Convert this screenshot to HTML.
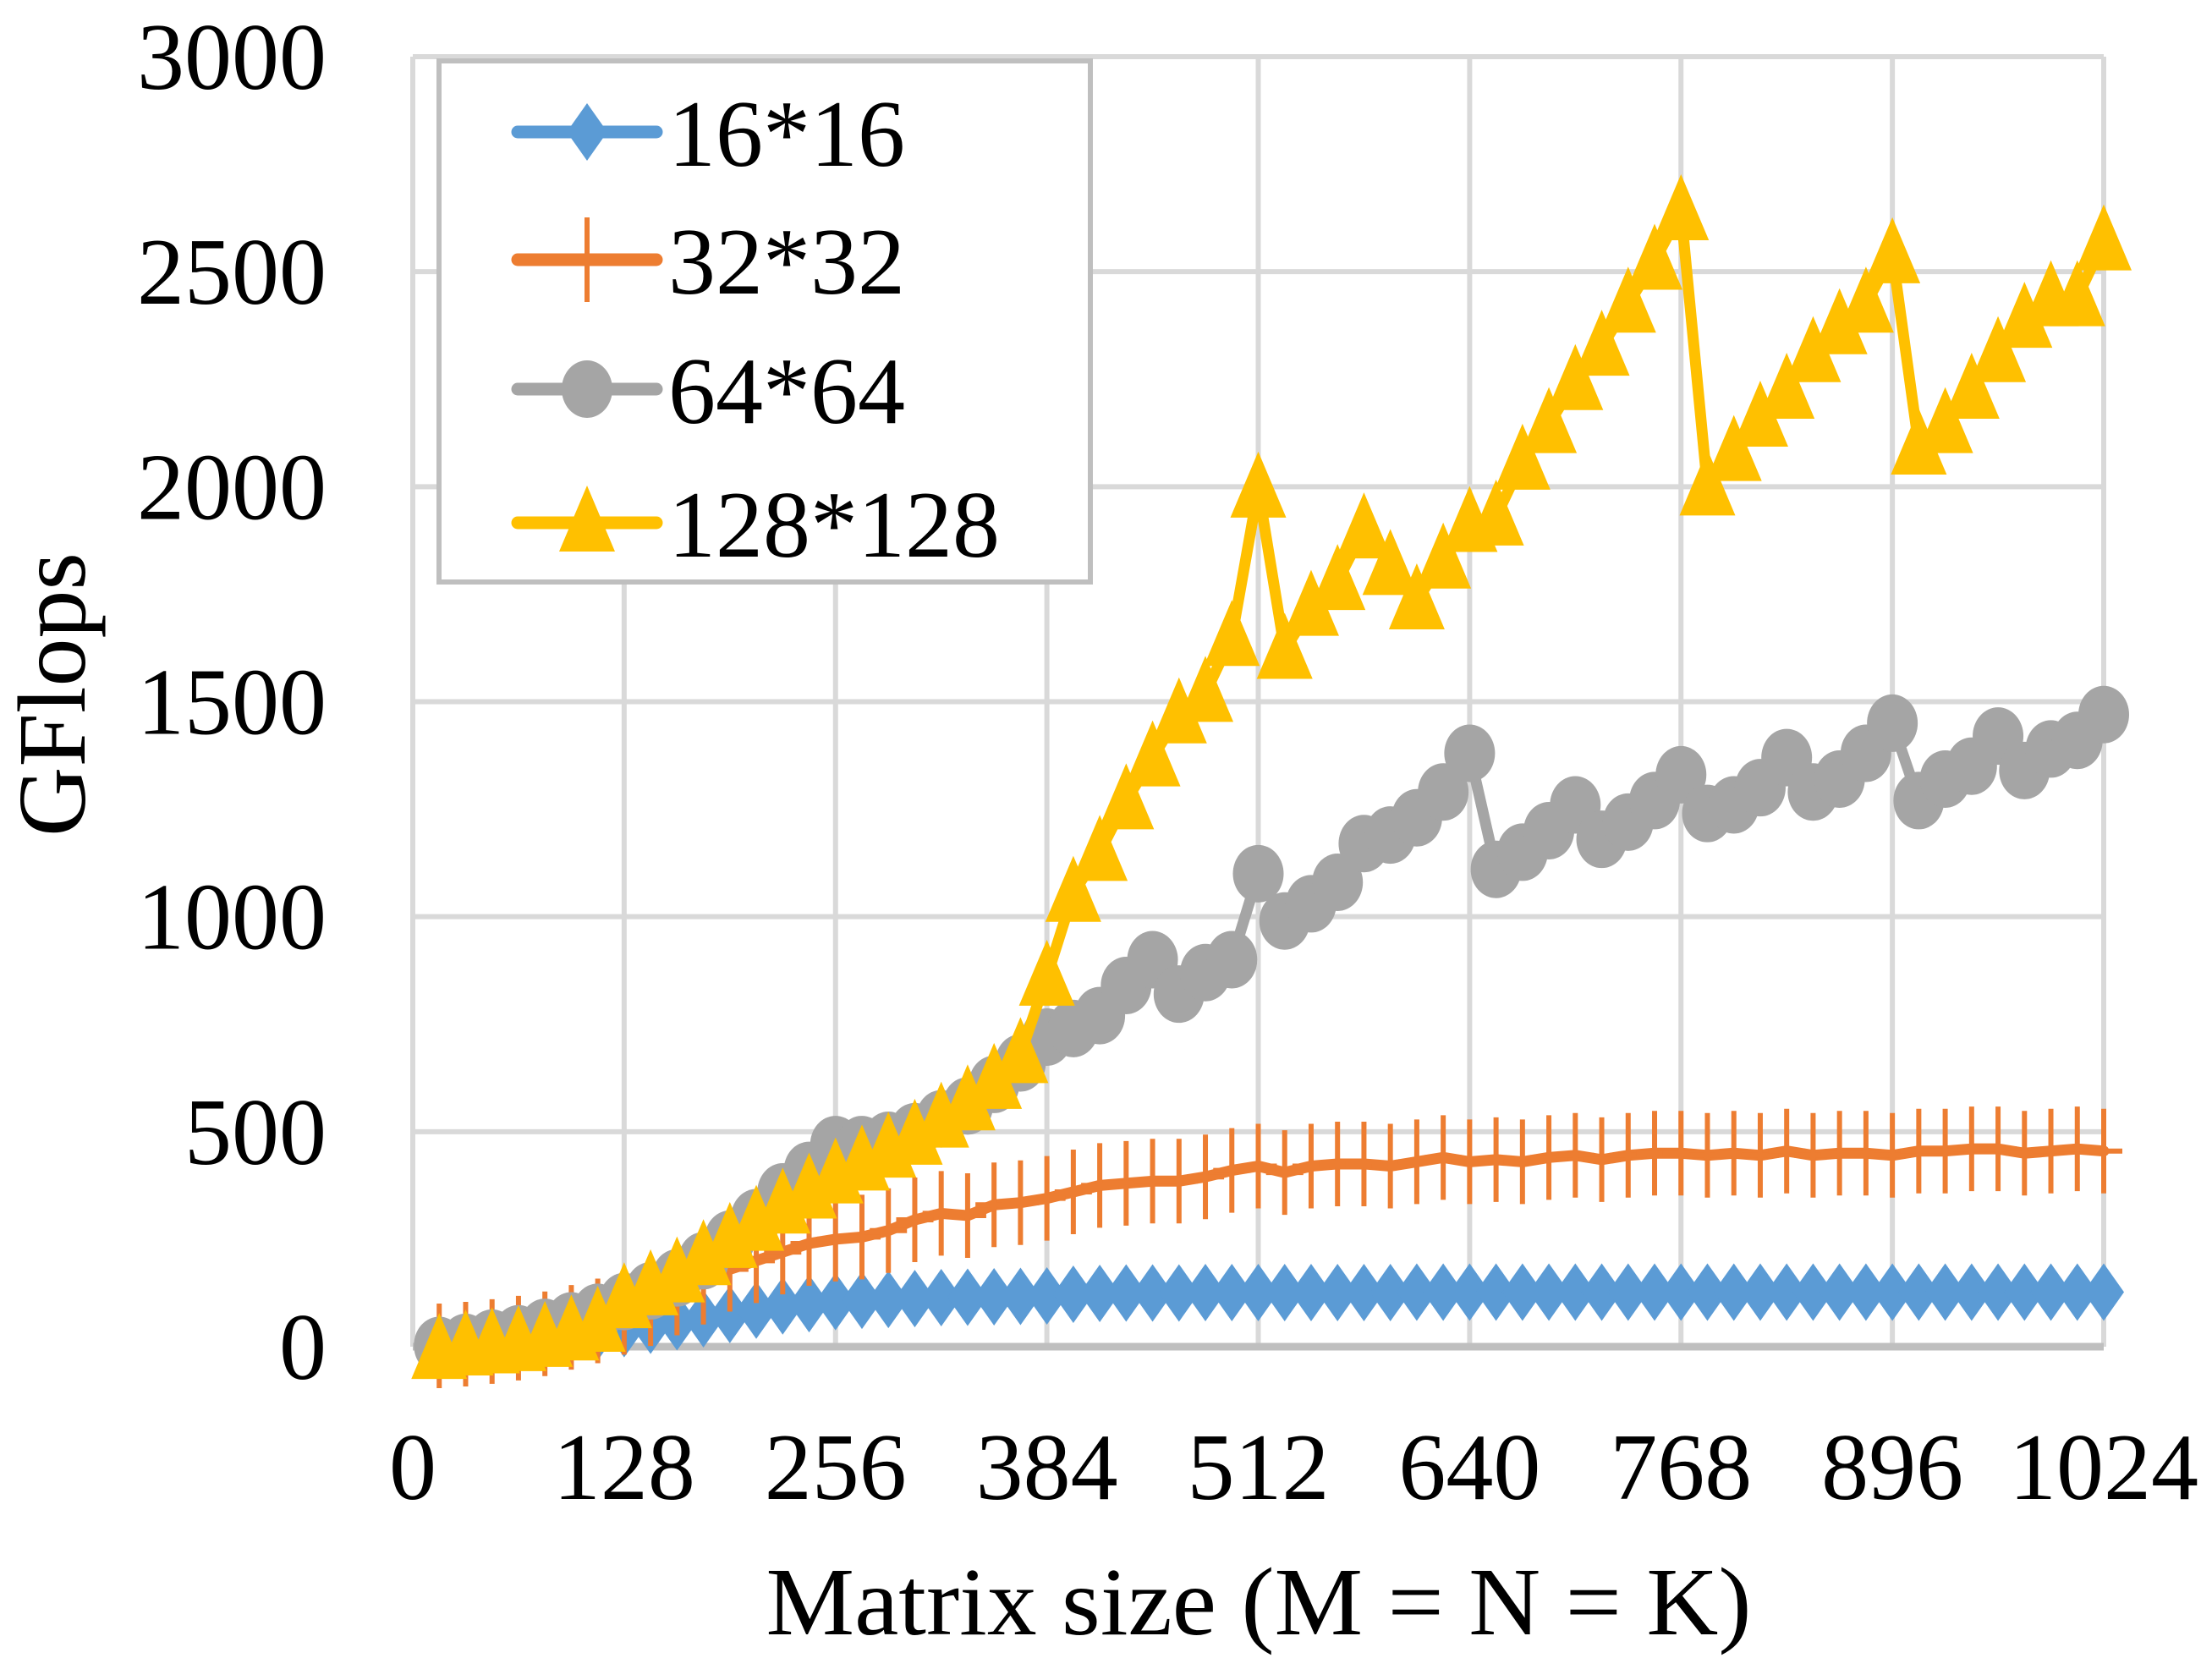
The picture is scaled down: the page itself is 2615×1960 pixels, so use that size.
<!DOCTYPE html>
<html><head><meta charset="utf-8"><style>
html,body{margin:0;padding:0;background:#fff;}
svg{display:block;font-family:"Liberation Serif","Times New Roman",serif;}
</style></head><body>
<svg id="chart" width="2615" height="1960" viewBox="0 0 2615 1960" xmlns="http://www.w3.org/2000/svg">
<g id="grid"></g>
<g id="axes"></g>
<g id="series"></g>
<g id="legend"></g>
<text x="1488" y="1932" font-size="114" text-anchor="middle" textLength="1165" lengthAdjust="spacingAndGlyphs">Matrix size (M = N = K)</text>
<text x="0" y="0" font-size="114" text-anchor="middle" transform="translate(100,821) rotate(-90)">GFlops</text>
</svg>
<script>
const xValues = [16,32,48,64,80,96,112,128,144,160,176,192,208,224,240,256,272,288,304,320,336,352,368,384,400,416,432,448,464,480,496,512,528,544,560,576,592,608,624,640,656,672,688,704,720,736,752,768,784,800,816,832,848,864,880,896,912,928,944,960,976,992,1008,1024];
const s16 = [2,5,10,15,20,28,35,42,50,58,65,75,85,95,100,105,108,110,112,114,115,116,117,118,122,124,125,125,125,126,126,126,126,126,126,126,126,127,127,127,127,127,127,127,127,127,127,127,127,127,127,127,127,127,127,127,127,127,127,127,127,127,127,127];
const s32 = [2,6,12,20,30,45,60,80,100,125,150,180,200,220,240,250,255,270,295,310,305,330,335,345,360,375,380,385,385,395,410,420,405,420,425,425,420,430,440,430,435,430,440,445,435,445,450,450,445,450,445,455,445,450,450,445,455,455,460,460,450,455,460,455];
const s64 = [3,10,20,30,45,60,80,105,130,160,200,250,300,360,410,470,470,480,500,530,560,610,660,720,740,770,840,900,820,870,900,1100,990,1030,1080,1170,1190,1230,1290,1380,1110,1150,1200,1260,1180,1220,1270,1330,1240,1260,1300,1370,1290,1320,1380,1450,1270,1320,1350,1420,1340,1390,1410,1470];
const s128 = [-8,0,5,10,20,35,55,110,140,170,210,250,290,330,365,400,430,460,490,530,570,620,680,860,1055,1150,1270,1370,1470,1520,1650,1995,1620,1720,1780,1900,1815,1735,1830,1915,1930,2060,2145,2245,2325,2425,2525,2640,2000,2080,2160,2225,2310,2375,2425,2540,2095,2145,2225,2310,2390,2440,2440,2570];
const xTicks = [0,128,256,384,512,640,768,896,1024];
const yTicks = [0,500,1000,1500,2000,2500,3000];
const seriesNames = ["16*16","32*32","64*64","128*128"];

const NS="http://www.w3.org/2000/svg";
const X0=488,X1=2487,Y0=1592,Y1=67;
const xs=v=>X0+(v/1024)*(X1-X0);
const ys=v=>Y0-(v/3000)*(Y0-Y1);
function mk(tag,attrs,parent){const e=document.createElementNS(NS,tag);for(const k in attrs)e.setAttribute(k,attrs[k]);parent.appendChild(e);return e;}
const grid=document.getElementById('grid'),axes=document.getElementById('axes'),ser=document.getElementById('series'),leg=document.getElementById('legend');

yTicks.forEach(t=>{
  if(t>0){const l=mk('line',{x1:X0,x2:X1,y1:ys(t),y2:ys(t),stroke:'#d9d9d9','stroke-width':6},grid);
  
  }
  const tx=mk('text',{x:386,y:ys(t)+38,'font-size':112,'text-anchor':'end'},axes);tx.textContent=t;
  
  
});
xTicks.forEach(t=>{
  const l=mk('line',{x1:xs(t),x2:xs(t),y1:Y1,y2:Y0,stroke:'#d9d9d9','stroke-width':6},grid);
  
  
  const tx=mk('text',{x:xs(t),y:1772,'font-size':112,'text-anchor':'middle'},axes);tx.textContent=t;
  
  
});
const ax=mk('line',{x1:X0,x2:X1,y1:Y0,y2:Y0,stroke:'#bfbfbf','stroke-width':9},axes);



function marker(type,cx,cy,col,g){
  let e;
  if(type==='diamond'){e=mk('polygon',{points:`${cx},${cy-34} ${cx+24},${cy} ${cx},${cy+34} ${cx-24},${cy}`,fill:col},g);}
  else if(type==='plus'){e=mk('path',{d:`M${cx},${cy-50}V${cy+50}M${cx-22},${cy}H${cx+22}`,stroke:col,'stroke-width':6,fill:'none'},g);}
  else if(type==='circle'){e=mk('ellipse',{cx:cx,cy:cy,rx:30,ry:34,fill:col},g);}
  else {e=mk('polygon',{points:`${cx},${cy-44} ${cx+33},${cy+34} ${cx-33},${cy+34}`,fill:col},g);}
  return e;
}
const defs=[[s16,'#5b9bd5','diamond'],[s32,'#ed7d31','plus'],[s64,'#a5a5a5','circle'],[s128,'#ffc000','triangle']];
defs.forEach(([vals,col,type],i)=>{
  const g=mk('g',{},ser);
  
  
  const pts=vals.map((v,j)=>xs(xValues[j])+','+ys(v)).join(' ');
  const pl=mk('polyline',{points:pts,fill:'none',stroke:col,'stroke-width':13,'stroke-linejoin':'round','stroke-linecap':'round'},g);
  
  
  vals.forEach((v,j)=>{const m=marker(type,xs(xValues[j]),ys(v),col,g);
    
    });
});
// legend
const box=mk('rect',{x:519,y:72,width:770,height:616,fill:'#fff',stroke:'#bfbfbf','stroke-width':6},leg);


const ly=[156,307,460,618];
defs.forEach(([vals,col,type],i)=>{
  const g=mk('g',{},leg);
  
  
  mk('line',{x1:612,x2:776,y1:ly[i],y2:ly[i],stroke:col,'stroke-width':15,'stroke-linecap':'round'},g);
  marker(type,694,ly[i],col,g);
  const t=mk('text',{x:790,y:ly[i]+40,'font-size':112},g);t.textContent=seriesNames[i];
});
</script>
</body></html>
